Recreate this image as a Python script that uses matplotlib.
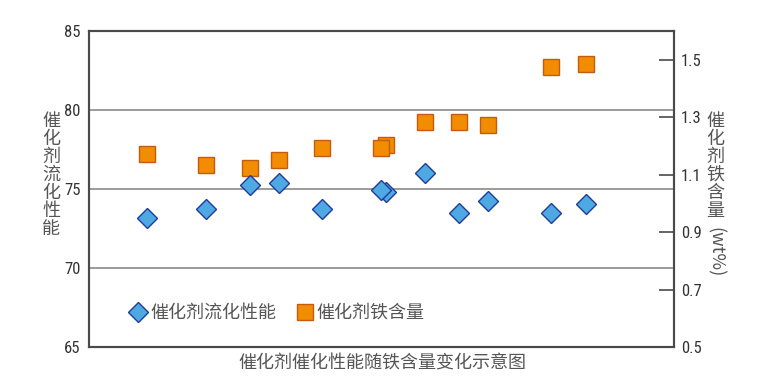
import matplotlib
matplotlib.use("Agg")
import matplotlib.pyplot as plt
from matplotlib import font_manager as fm
from matplotlib.lines import Line2D

# ---- data ----
sample_pos = [9.9, 20.0, 27.5, 32.5, 39.8, 50.8, 49.9, 57.4, 63.2, 68.2, 79.0, 85.0]
fluid_perf = [73.16, 73.73, 75.25, 75.38, 73.73, 74.84, 74.94, 76.03, 73.46, 74.24, 73.46, 74.05]
iron_content = [1.173, 1.133, 1.124, 1.152, 1.193, 1.203, 1.193, 1.282, 1.282, 1.272, 1.473, 1.484]
left_ticks = [65, 70, 75, 80, 85]
right_ticks = [0.5, 0.7, 0.9, 1.1, 1.3, 1.5]
right_ticklabels = ["0.5", "0.7", "0.9", "1.1", "1.3", "1.5"]
grid_levels = [70, 75, 80]
label_fluid = "催化剂流化性能"
label_iron = "催化剂铁含量"
right_ylabel_cjk = "催化剂铁含量"
right_ylabel_unit = "(wt%)"
xlabel = "催化剂催化性能随铁含量变化示意图"

fonts = [(f.name, f.stretch, f.weight) for f in fm.fontManager.ttflist]
names = {f[0] for f in fonts}
num_font, num_stretch = "DejaVu Sans", "condensed"
for cand in ["Liberation Sans Narrow", "Roboto Condensed", "Open Sans Condensed"]:
    if cand in names:
        num_font, num_stretch = cand, "normal"
        break

cjk = ["Noto Sans CJK SC", "DejaVu Sans"]
plt.rcParams['font.family'] = cjk
cjk_weight = "light" if any(f[0] == "Noto Sans CJK SC" and (f[2] in (300, "light")) for f in fonts) else "normal"

txt_color = "#555555"
spine_color = "#4a4a4a"
num_kw = dict(fontfamily=num_font, fontstretch=num_stretch, fontsize=12, color="#333333")

fig = plt.figure(figsize=(7.75, 3.88), dpi=100)
ax = fig.add_axes([89/775, 41/388, 585/775, 316/388])
ax2 = ax.twinx()

ax.set_xlim(0, 100)
ax.set_ylim(65, 85)
ax2.set_ylim(0.5, 1.6)

for g in grid_levels:
    ax.axhline(g, color="#8a8a8a", lw=1.2, zorder=1)

ax.set_xticks([])
ax.set_yticks(left_ticks)
ax.set_yticklabels([str(t) for t in left_ticks], **num_kw)
ax.tick_params(axis='y', length=0, pad=6)

ax2.set_yticks(right_ticks)
ax2.set_yticklabels(right_ticklabels, **num_kw)
ax2.tick_params(axis='y', direction='in', length=11, width=1.2, color=spine_color, pad=5)

for a in (ax, ax2):
    for s in a.spines.values():
        s.set_color(spine_color)
        s.set_linewidth(1.5)

sq_kw = dict(marker='s', markersize=11, markerfacecolor="#f28c00",
             markeredgecolor="#c55a11", markeredgewidth=1.0)
dm_kw = dict(marker='D', markersize=10, markerfacecolor="#4ea9e2",
             markeredgecolor="#1f3c9c", markeredgewidth=1.0)

ax2.plot(sample_pos, iron_content, linestyle='none', zorder=3, **sq_kw)
ax.set_zorder(ax2.get_zorder() + 1)
ax.patch.set_visible(False)
ax.plot(sample_pos, fluid_perf, linestyle='none', zorder=4, **dm_kw)

# labels
ax.text(-0.065, 0.544, "\n".join(label_fluid), transform=ax.transAxes, ha='center', va='center',
        fontsize=13, color=txt_color, linespacing=1.0, fontweight=cjk_weight)
ax.text(1.07, 0.573, "\n".join(right_ylabel_cjk), transform=ax.transAxes, ha='center', va='center',
        fontsize=13, color=txt_color, linespacing=1.0, fontweight=cjk_weight)
ax.text(1.07, 0.30, right_ylabel_unit, transform=ax.transAxes, ha='center', va='center',
        rotation=270, fontsize=13, color=txt_color, fontweight=cjk_weight)
fig.text(382/775, 1 - 364/388, xlabel, ha='center', va='center', fontsize=13, color=txt_color,
         fontweight=cjk_weight)

handles = [
    Line2D([], [], linestyle='none', label=label_fluid, **dm_kw),
    Line2D([], [], linestyle='none', label=label_iron, **sq_kw),
]
leg = ax.legend(handles=handles, loc='center left', bbox_to_anchor=(0.072, 0.108), ncol=2,
                frameon=False, prop={'size': 13, 'weight': cjk_weight},
                handlelength=0.8, handletextpad=0.25, columnspacing=1.2, borderpad=0, borderaxespad=0)
for t in leg.get_texts():
    t.set_color(txt_color)

fig.savefig("out.png", dpi=100)
